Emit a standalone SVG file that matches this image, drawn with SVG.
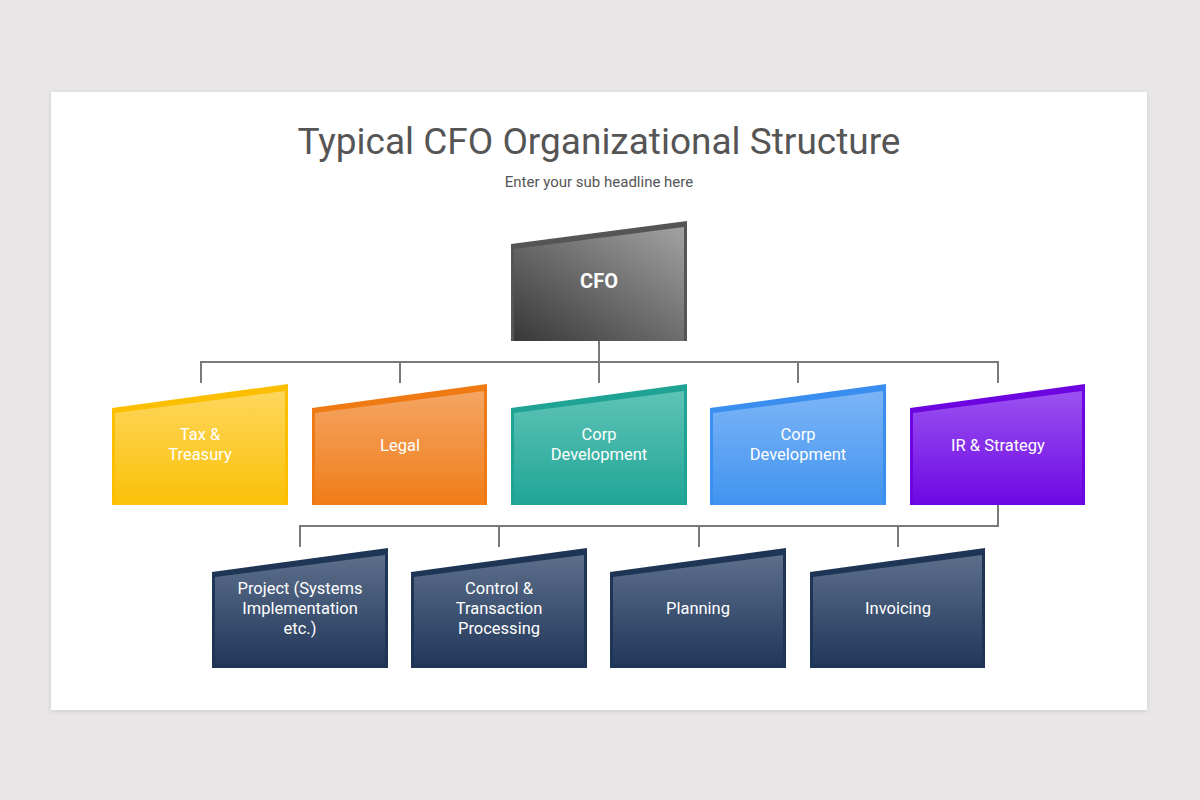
<svg xmlns="http://www.w3.org/2000/svg" width="1200" height="800" viewBox="0 0 1200 800">
<defs>
<style>
.t{font-family:Roboto,"Liberation Sans",sans-serif;fill:#fff;font-size:16.5px;text-anchor:middle}
.c{fill:none;stroke:#7a7a7a;stroke-width:2}
</style>
<filter id="sh" x="-5%" y="-5%" width="110%" height="110%"><feDropShadow dx="0" dy="1" stdDeviation="2" flood-color="#000" flood-opacity="0.12"/></filter>
<linearGradient id="gy" x1="0" y1="0" x2="0" y2="1"><stop offset="0" stop-color="#fdd65c"/><stop offset="1" stop-color="#fbc108"/></linearGradient>
<linearGradient id="go" x1="0" y1="0" x2="0" y2="1"><stop offset="0" stop-color="#f4a564"/><stop offset="1" stop-color="#f07d18"/></linearGradient>
<linearGradient id="gt" x1="0" y1="0" x2="0" y2="1"><stop offset="0" stop-color="#5ec3b7"/><stop offset="1" stop-color="#20a596"/></linearGradient>
<linearGradient id="gb" x1="0" y1="0" x2="0" y2="1"><stop offset="0" stop-color="#7cb5f6"/><stop offset="1" stop-color="#4193f0"/></linearGradient>
<linearGradient id="gp" x1="0" y1="0" x2="0" y2="1"><stop offset="0" stop-color="#9b52f1"/><stop offset="1" stop-color="#6d08e4"/></linearGradient>
<linearGradient id="gn" x1="0" y1="0" x2="0" y2="1"><stop offset="0" stop-color="#5c6e8a"/><stop offset="1" stop-color="#22385b"/></linearGradient>
<linearGradient id="gc" x1="0" y1="1" x2="1" y2="0"><stop offset="0" stop-color="#383838"/><stop offset="1" stop-color="#a2a2a2"/></linearGradient>
</defs>
<rect width="1200" height="800" fill="#e8e6e6"/>
<rect x="51" y="92" width="1096" height="618" fill="#fff" filter="url(#sh)"/>
<text x="599" y="154" font-family="Roboto,'Liberation Sans',sans-serif" font-size="37" fill="#555" text-anchor="middle">Typical CFO Organizational Structure</text>
<text x="599" y="187" font-family="Roboto,'Liberation Sans',sans-serif" font-size="15" fill="#555" text-anchor="middle">Enter your sub headline here</text>
<g id="connectors">
<path class="c" d="M599 341V362M201 383V362H998V383M400 362V383M599 362V383M798 362V383"/>
<path class="c" d="M998 505V526H300V547M499 526V547M699 526V547M898 526V547"/>
</g>
<g id="cfo">
<polygon points="511,244 687,221 687,341 511,341" fill="#555"/>
<polygon points="514,249 684,227 684,341 514,341" fill="url(#gc)"/>
<text x="599" y="288" class="t" style="font-size:20px;font-weight:bold">CFO</text>
</g>
<g id="tax">
<polygon points="112,408 288,384 288,505 112,505" fill="#fbbf00"/>
<polygon points="115,413 285,391 285,505 115,505" fill="url(#gy)"/>
<text class="t" x="200" y="440">Tax &amp;</text><text class="t" x="200" y="460">Treasury</text>
</g>
<g id="legal">
<polygon points="312,408 487,384 487,505 312,505" fill="#ef7a13"/>
<polygon points="315,413 484,391 484,505 315,505" fill="url(#go)"/>
<text class="t" x="400" y="451">Legal</text>
</g>
<g id="corp1">
<polygon points="511,408 687,384 687,505 511,505" fill="#1fa394"/>
<polygon points="514,413 684,391 684,505 514,505" fill="url(#gt)"/>
<text class="t" x="599" y="440">Corp</text><text class="t" x="599" y="460">Development</text>
</g>
<g id="corp2">
<polygon points="710,408 886,384 886,505 710,505" fill="#3a8ef0"/>
<polygon points="713,413 883,391 883,505 713,505" fill="url(#gb)"/>
<text class="t" x="798" y="440">Corp</text><text class="t" x="798" y="460">Development</text>
</g>
<g id="ir">
<polygon points="910,408 1085,384 1085,505 910,505" fill="#6c05e0"/>
<polygon points="913,413 1082,391 1082,505 913,505" fill="url(#gp)"/>
<text class="t" x="998" y="451">IR &amp; Strategy</text>
</g>
<g id="project">
<polygon points="212,572 388,548 388,668 212,668" fill="#1f3556"/>
<polygon points="215,577 385,555 385,665 215,665" fill="url(#gn)"/>
<text class="t" x="300" y="594">Project (Systems</text><text class="t" x="300" y="614">Implementation</text><text class="t" x="300" y="634">etc.)</text>
</g>
<g id="control">
<polygon points="411,572 587,548 587,668 411,668" fill="#1f3556"/>
<polygon points="414,577 584,555 584,665 414,665" fill="url(#gn)"/>
<text class="t" x="499" y="594">Control &amp;</text><text class="t" x="499" y="614">Transaction</text><text class="t" x="499" y="634">Processing</text>
</g>
<g id="planning">
<polygon points="610,572 786,548 786,668 610,668" fill="#1f3556"/>
<polygon points="613,577 783,555 783,665 613,665" fill="url(#gn)"/>
<text class="t" x="698" y="614">Planning</text>
</g>
<g id="invoicing">
<polygon points="810,572 985,548 985,668 810,668" fill="#1f3556"/>
<polygon points="813,577 982,555 982,665 813,665" fill="url(#gn)"/>
<text class="t" x="898" y="614">Invoicing</text>
</g>
</svg>
